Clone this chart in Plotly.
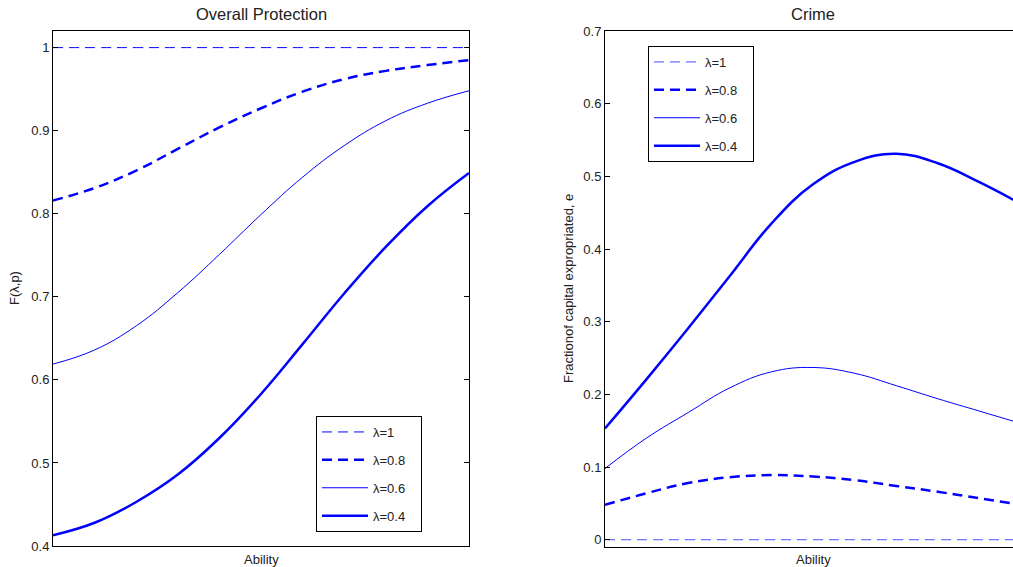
import plotly.graph_objects as go

W, H = 1013, 567

ability = [0.0, 0.1, 0.2, 0.3, 0.4, 0.5, 0.6, 0.7, 0.8, 0.9, 1.0]
lambda_labels = ["λ=1", "λ=0.8", "λ=0.6", "λ=0.4"]

# Overall Protection F(lambda, p)
prot_l10 = [1.0, 1.0, 1.0, 1.0, 1.0, 1.0, 1.0, 1.0, 1.0, 1.0, 1.0]
prot_l08 = [0.816, 0.831, 0.852, 0.878, 0.904, 0.927, 0.947, 0.962, 0.972, 0.979, 0.985]
prot_l06 = [0.619, 0.636, 0.665, 0.705, 0.751, 0.799, 0.844, 0.882, 0.912, 0.933, 0.948]
prot_l04 = [0.413, 0.428, 0.453, 0.486, 0.530, 0.583, 0.643, 0.704, 0.760, 0.809, 0.849]

# Crime: fraction of capital expropriated
crime_l10 = [0.0, 0.0, 0.0, 0.0, 0.0, 0.0, 0.0, 0.0, 0.0, 0.0, 0.0]
crime_l08 = [0.048, 0.064, 0.078, 0.086, 0.089, 0.087, 0.082, 0.074, 0.066, 0.057, 0.048]
crime_l06 = [0.098, 0.140, 0.175, 0.209, 0.231, 0.237, 0.229, 0.212, 0.194, 0.177, 0.160]
crime_l04 = [0.153, 0.221, 0.291, 0.363, 0.435, 0.489, 0.520, 0.531, 0.518, 0.492, 0.462]

left_ticks = [0.4, 0.5, 0.6, 0.7, 0.8, 0.9, 1.0]
left_ticktext = ["0.4", "0.5", "0.6", "0.7", "0.8", "0.9", "1"]
right_ticks = [0.0, 0.1, 0.2, 0.3, 0.4, 0.5, 0.6, 0.7]
right_ticktext = ["0", "0.1", "0.2", "0.3", "0.4", "0.5", "0.6", "0.7"]

BLUE = "#0000ff"
styles = [
    dict(width=1, dash="10px,6px"),
    dict(width=2.5, dash="10px,6px"),
    dict(width=1, dash="solid"),
    dict(width=2.5, dash="solid"),
]

FONT = "Liberation Sans, Arial, Helvetica, sans-serif"
PAD = "\u00a0\u00a0\u00a0"

fig = go.Figure()

left_series = [prot_l10, prot_l08, prot_l06, prot_l04]
right_series = [crime_l10, crime_l08, crime_l06, crime_l04]

for i, (lab, ys) in enumerate(zip(lambda_labels, left_series)):
    fig.add_trace(go.Scatter(
        x=ability, y=ys, mode="lines", name=lab + PAD, line_shape="spline",
        line=dict(color=BLUE, smoothing=1.2, **styles[i]), xaxis="x", yaxis="y",
        legend="legend", legendgroup="L%d" % i))

for i, (lab, ys) in enumerate(zip(lambda_labels, right_series)):
    col = "#4d4dff" if i == 0 else BLUE
    fig.add_trace(go.Scatter(
        x=ability, y=ys, mode="lines", name=lab + PAD, line_shape="spline",
        line=dict(color=col, smoothing=1.2, **styles[i]), xaxis="x2", yaxis="y2",
        legend="legend2", legendgroup="R%d" % i))

def px(x):
    return x / W

def py(y):
    return 1 - y / H

axis_common = dict(showgrid=False, zeroline=False, linecolor="black", linewidth=1,
                   showline=True, automargin=False,
                   tickfont=dict(family=FONT, size=13, color="#222222"))

legend_common = dict(xanchor="left", yanchor="top",
                     bgcolor="white", bordercolor="black", borderwidth=1,
                     font=dict(family=FONT, size=13, color="#222222"),
                     tracegroupgap=8, itemwidth=46)

fig.update_layout(
    width=W, height=H,
    template="none",
    paper_bgcolor="white", plot_bgcolor="white",
    margin=dict(l=0, r=0, t=0, b=0),
    font=dict(family=FONT, size=13, color="#222222"),
    xaxis=dict(domain=[px(53), px(469)], range=[0, 1], showticklabels=False,
               ticks="", mirror=True, anchor="y", **axis_common),
    yaxis=dict(domain=[py(546), py(31)], range=[0.4, 1.02], tickvals=left_ticks,
               ticktext=left_ticktext, ticks="inside", ticklen=5, tickcolor="black",
               mirror="ticks", anchor="x", **axis_common),
    xaxis2=dict(domain=[px(605), 1.0], range=[0, (1013 - 605) / 416.0], showticklabels=False,
                ticks="", mirror=True, anchor="y2", **axis_common),
    yaxis2=dict(domain=[py(547), py(31)], range=[-0.01, 0.7], tickvals=right_ticks,
                ticktext=right_ticktext, ticks="inside", ticklen=5, tickcolor="black",
                mirror=False, anchor="x2", **axis_common),
    legend=dict(x=px(316), y=py(416), **legend_common),
    legend2=dict(x=px(648), y=py(46), **legend_common),
    showlegend=True,
)

ann = [
    dict(text="Overall Protection", x=px(261), y=py(14), size=16.5, angle=0),
    dict(text="Crime", x=px(813), y=py(14), size=16.5, angle=0),
    dict(text="Ability", x=px(261), y=py(559), size=13, angle=0),
    dict(text="Ability", x=px(813), y=py(559), size=13, angle=0),
    dict(text="F(λ,p)", x=px(14), y=py(288), size=13, angle=-90),
    dict(text="Fractionof capital expropriated, e", x=px(568), y=py(289), size=13, angle=-90),
]
for a in ann:
    fig.add_annotation(text=a["text"], x=a["x"], y=a["y"], xref="paper", yref="paper",
                       xanchor="center", yanchor="middle", showarrow=False,
                       textangle=a["angle"],
                       font=dict(family=FONT, size=a["size"], color="#222222"))

fig.write_html("out.html", config={"displayModeBar": False},
               post_script="document.body.style.margin='0px';")
